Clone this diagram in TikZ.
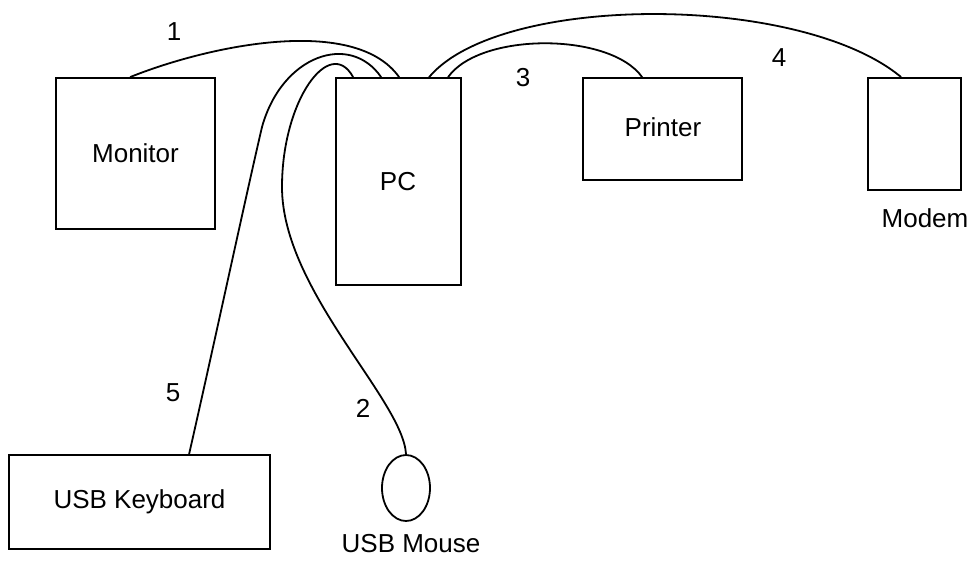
\documentclass[tikz,border=0pt]{standalone}
\usepackage{fontspec}
\setmainfont{Liberation Sans}
\usetikzlibrary{shapes.geometric}
\begin{document}
\begin{tikzpicture}[x=1pt,y=-1pt,
  box/.style={draw,line width=1.8pt,rectangle,inner sep=0pt,font=\fontsize{26}{31}\selectfont},
  cable/.style={line width=1.8pt},
  lbl/.style={anchor=base,inner sep=0pt,font=\fontsize{26}{31}\selectfont}]
\useasboundingbox (0,0) rectangle (971,560);
% devices
\node[box,minimum width=159pt,minimum height=151pt] (mon) at (135.5,153.5) {Monitor};
\node[box,minimum width=125pt,minimum height=207pt] (pc) at (398.5,181.5) {};
\node[lbl] (pct) at (398,190) {PC};
\node[box,minimum width=159pt,minimum height=102pt] (prn) at (662.5,129) {};
\node[lbl] (prnt) at (663,136) {Printer};
\node[box,minimum width=93pt,minimum height=112pt] (mod) at (914.5,134) {};
\node[lbl] (modt) at (925,227) {Modem};
\node[box,minimum width=261pt,minimum height=94pt] (kb) at (139.5,502) {USB Keyboard};
\node[draw,line width=1.8pt,ellipse,inner sep=0pt,minimum width=48pt,minimum height=66pt] (mouse) at (406,488) {};
\node[lbl] (mouset) at (411,552) {USB Mouse};
% cable labels
\node[lbl] (l1) at (174,40) {1};
\node[lbl] (l2) at (363,417) {2};
\node[lbl] (l3) at (523,86) {3};
\node[lbl] (l4) at (779,66) {4};
\node[lbl] (l5) at (173,401) {5};
% cables
\draw[cable] ([xshift=75pt]mon.north west) .. controls (210,45) and (355,15) .. ([xshift=64pt]pc.north west);
\draw[cable] ([xshift=113pt]pc.north west) .. controls (480,32) and (610,32) .. ([xshift=60pt]prn.north west);
\draw[cable] ([xshift=94pt]pc.north west) .. controls (500,-7) and (800,-7) .. ([xshift=34pt]mod.north west);
\draw[cable] ([xshift=181pt]kb.north west) .. controls (215,340) and (245,200) .. (262,127)
  .. controls (282,55) and (350,32) .. ([xshift=46pt]pc.north west);
\draw[cable] (mouse.north) .. controls (403,400) and (282,290) .. (282,187)
  .. controls (282,100) and (330,35) .. ([xshift=18pt]pc.north west);
\end{tikzpicture}
\end{document}
